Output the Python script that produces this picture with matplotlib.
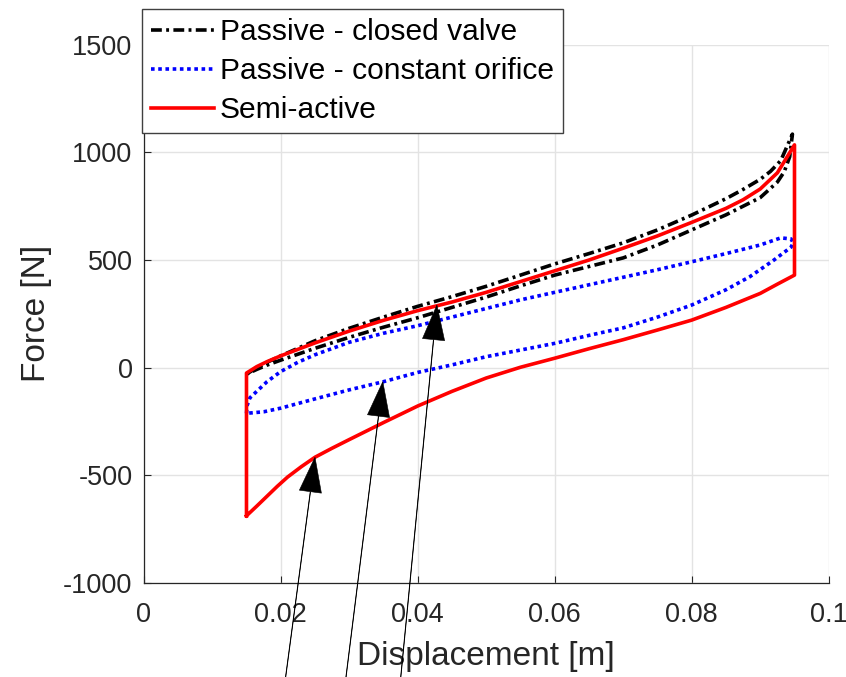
import matplotlib
matplotlib.use("Agg")
import matplotlib.pyplot as plt
from matplotlib.lines import Line2D

plt.rcParams['font.family'] = ['Liberation Sans', 'DejaVu Sans']

# ---------------- data ----------------
# Passive - closed valve
x_cv_up = [0.015, 0.0165, 0.018, 0.02, 0.025, 0.03, 0.035, 0.04, 0.045, 0.05, 0.055, 0.06,
           0.065, 0.07, 0.075, 0.08, 0.085, 0.0875, 0.09, 0.0915, 0.093, 0.0947]
f_cv_up = [-30, 0, 25, 55, 125, 183, 235, 285, 330, 378, 430, 482,
           530, 580, 640, 709, 785, 828, 875, 912, 962, 1085]
x_cv_dn = [0.0947, 0.0943, 0.0935, 0.0925, 0.09, 0.085, 0.08, 0.075, 0.07, 0.065, 0.06, 0.055, 0.05,
           0.045, 0.04, 0.035, 0.03, 0.025, 0.02, 0.018, 0.0165, 0.015]
f_cv_dn = [1085, 980, 910, 862, 790, 710, 640, 570, 510, 470, 430, 380, 328,
           280, 232, 188, 141, 90, 35, 12, -8, -30]

# Passive - constant orifice
x_co_up = [0.015, 0.0151, 0.0155, 0.0167, 0.018, 0.02, 0.0225, 0.025, 0.03, 0.035, 0.04, 0.045,
           0.05, 0.055, 0.06, 0.065, 0.07, 0.075, 0.08, 0.085, 0.09, 0.093, 0.0945, 0.0948]
f_co_up = [-212, -175, -140, -104, -65, -18, 25, 60, 118, 160, 195, 235,
           275, 315, 350, 385, 420, 455, 492, 530, 570, 603, 598, 580]
x_co_dn = [0.0948, 0.0945, 0.092, 0.0885, 0.085, 0.08, 0.075, 0.07, 0.065, 0.06, 0.055, 0.05,
           0.045, 0.04, 0.035, 0.03, 0.025, 0.02, 0.0175, 0.015]
f_co_dn = [580, 560, 500, 423, 362, 291, 235, 185, 150, 113, 82, 51,
           13, -22, -65, -103, -145, -188, -205, -212]

# Semi-active
x_sa_up = [0.015, 0.015, 0.0165, 0.018, 0.02, 0.025, 0.03, 0.035, 0.04, 0.045, 0.05, 0.055,
           0.06, 0.065, 0.07, 0.075, 0.08, 0.085, 0.0875, 0.09, 0.0925, 0.095]
f_sa_up = [-688, -25, 5, 28, 55, 115, 170, 220, 265, 305, 350, 400,
           450, 500, 555, 612, 675, 740, 780, 830, 905, 1035]
x_sa_dn = [0.095, 0.095, 0.0925, 0.09, 0.085, 0.08, 0.075, 0.07, 0.065, 0.06, 0.055, 0.05,
           0.045, 0.04, 0.035, 0.03, 0.0275, 0.025, 0.023, 0.021, 0.0195, 0.018, 0.0165, 0.015]
f_sa_dn = [1035, 430, 388, 345, 280, 221, 175, 130, 88, 44, 2, -48,
           -110, -178, -255, -334, -374, -416, -460, -508, -551, -597, -643, -688]

labels = ['Passive - closed valve', 'Passive - constant orifice', 'Semi-active']

# annotation arrows: tip (data) and tail (data, below the axes)
arrow_tips = [(0.025, -416), (0.0349, -65), (0.0428, 291)]
arrow_tails = [(0.02045, -1500), (0.02928, -1500), (0.03733, -1500)]

xticks = [0, 0.02, 0.04, 0.06, 0.08, 0.1]
xticklabels = ['0', '0.02', '0.04', '0.06', '0.08', '0.1']
yticks = [-1000, -500, 0, 500, 1000, 1500]
yticklabels = ['-1000', '-500', '0', '500', '1000', '1500']

# ---------------- figure ----------------
fig = plt.figure(figsize=(8.46, 6.77), dpi=100)
ax = fig.add_axes([0.1699, 0.1389, 0.8097, 0.7950])

txt = '#262626'
lw = 2.6
dashdot = (0, (3.0, 1.2, 0.8, 1.2))
dotted = (0, (1, 1.0))
ax.plot(x_cv_up + x_cv_dn, f_cv_up + f_cv_dn, color='black', lw=lw,
        linestyle=dashdot, label=labels[0], zorder=3)
ax.plot(x_co_up + x_co_dn, f_co_up + f_co_dn, color='#0000ff', lw=lw,
        linestyle=dotted, label=labels[1], zorder=3)
ax.plot(x_sa_up + x_sa_dn, f_sa_up + f_sa_dn, color='#ff0000', lw=lw,
        linestyle='-', label=labels[2], zorder=3)

for tip, tail in zip(arrow_tips, arrow_tails):
    ax.annotate('', xy=tip, xytext=tail, xycoords='data', textcoords='data',
                annotation_clip=False,
                arrowprops=dict(facecolor='black', edgecolor='black', width=0.35,
                                headwidth=16, headlength=25, lw=0.4, shrink=0))

ax.set_xlim(0, 0.1)
ax.set_ylim(-1000, 1500)
ax.set_xticks(xticks)
ax.set_xticklabels(xticklabels)
ax.set_yticks(yticks)
ax.set_yticklabels(yticklabels)
ax.tick_params(direction='in', length=5, width=0.8, colors=txt, labelsize=19.5, pad=8)
ax.tick_params(axis='x', pad=14)
ax.grid(True, color='#e3e3e3', lw=1.0, zorder=0)
ax.set_axisbelow(True)
for s in ['top', 'right']:
    ax.spines[s].set_visible(False)
for s in ['left', 'bottom']:
    ax.spines[s].set_color(txt)
    ax.spines[s].set_linewidth(0.9)

ax.set_xlabel('Displacement [m]', fontsize=24, color=txt, labelpad=9)
ax.set_ylabel('Force [N]', fontsize=24, color=txt, labelpad=8)

handles = [Line2D([], [], color='black', lw=lw, linestyle=dashdot),
           Line2D([], [], color='#0000ff', lw=lw, linestyle=dotted),
           Line2D([], [], color='#ff0000', lw=lw)]
leg = fig.legend(handles, labels, loc='upper left', bbox_to_anchor=(142 / 846, 1 - 9 / 677),
                 fontsize=21.6, frameon=True, fancybox=False, borderaxespad=0,
                 borderpad=0.3, handlelength=2.1, handletextpad=0.2, labelspacing=0.37)
leg.get_frame().set_edgecolor('#404040')
leg.get_frame().set_linewidth(1.0)
leg.get_frame().set_alpha(1)

fig.savefig('out.png', dpi=100)
